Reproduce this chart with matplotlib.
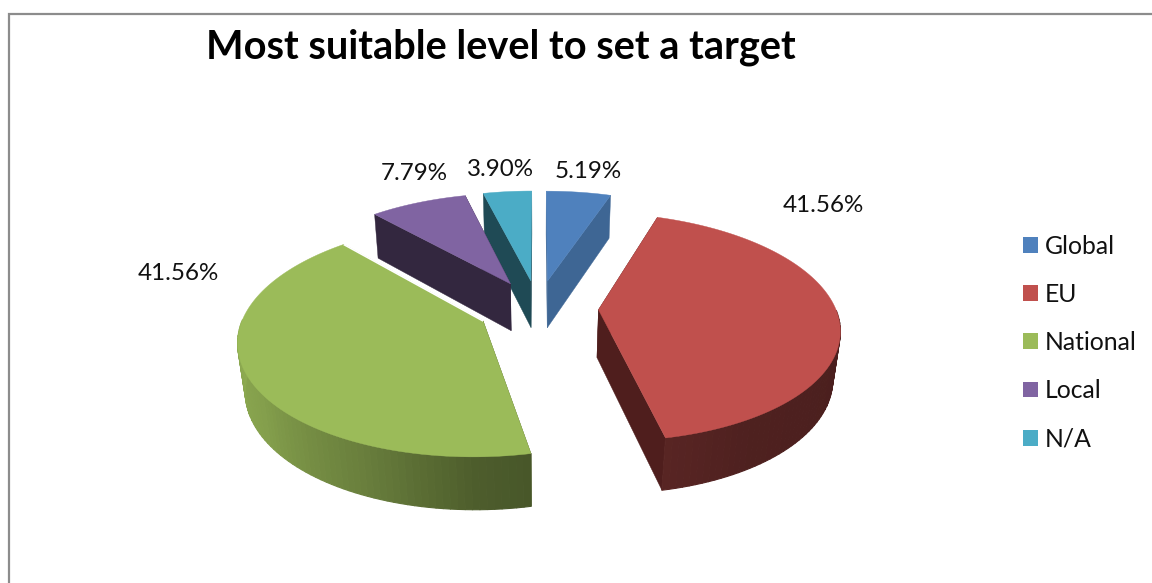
import numpy as np
import matplotlib
matplotlib.use("Agg")
import matplotlib.pyplot as plt
from matplotlib.patches import Patch, Polygon
from matplotlib.collections import PolyCollection

plt.rcParams["font.family"] = ["Lato", "DejaVu Sans"]

# Survey shares, in percent
categories = ["Global", "EU", "National", "Local", "N/A"]
shares = [5.19, 41.56, 41.56, 7.79, 3.90]

# Slice styling
top_colors = ["#4f81bd", "#c0504d", "#9bbb59", "#8064a2", "#4bacc6"]
cut_colors = ["#3e6694", "#4f1e1d", "#4a5a28", "#33273f", "#1f4a55"]
label_xy = [(588, 172), (823, 206), (178, 273), (414, 174), (500, 170)]

# Rim brightness as a function of clockwise angle from twelve o'clock
shade_angles = [90, 150, 168, 180, 204, 235, 270]
shade_levels = [0.38, 0.41, 0.46, 0.50, 0.68, 0.85, 0.92]

# Projection of the tilted, extruded pie onto the canvas (pixel units)
CX, CY = 538, 308
RX, RY = 237, 111
DEPTH = 49
PERSP_V = 0.151
PERSP_H = 0.025
EXPLODE = 0.255


def project(u, v, h):
    w = 1 + PERSP_V * v + PERSP_H * h
    return np.column_stack((CX + RX * u / w, CY + (-RY * v + DEPTH * h) / w))


def scale_rgb(color, factor):
    r, g, b = matplotlib.colors.to_rgb(color)
    return (r * factor, g * factor, b * factor)


fig = plt.figure(figsize=(11.52, 5.83), dpi=100)
ax = fig.add_axes([0, 0, 1, 1])
ax.set_xlim(0, 1152)
ax.set_ylim(583, 0)
ax.axis("off")

# Chart frame: open at the right and bottom edges of the canvas
ax.plot([8.5, 8.5, 1152], [583, 13.5, 13.5], color="#8c8c8c", lw=1.6,
        solid_joinstyle="miter", zorder=1)

edges = np.concatenate(([0], np.cumsum(shares))) * 3.6
slices = []
for i in range(len(shares)):
    a0, a1 = np.radians(edges[i]), np.radians(edges[i + 1])
    mid = (a0 + a1) / 2
    slices.append((i, a0, a1, EXPLODE * np.sin(mid), EXPLODE * np.cos(mid)))

# Paint the rearmost slices first so nearer ones overlap them
slices.sort(key=lambda s: -s[4])
for order, (i, a0, a1, ou, ov) in enumerate(slices):
    z = 2 + order * 3

    # Flat faces revealed where the slice was pulled out of the pie
    for ang in (a0, a1):
        eu = ou + np.array([0, np.sin(ang)])
        ev = ov + np.array([0, np.cos(ang)])
        quad = np.vstack((project(eu, ev, 0), project(eu, ev, 1)[::-1]))
        ax.add_patch(Polygon(quad, closed=True, fc=cut_colors[i],
                             ec=cut_colors[i], lw=0.3, zorder=z))

    # Curved rim as shaded strips, only along the front of the pie
    theta = np.linspace(a0, a1, max(12, int(np.degrees(a1 - a0) / 1.5)))
    top = project(ou + np.sin(theta), ov + np.cos(theta), 0)
    bottom = project(ou + np.sin(theta), ov + np.cos(theta), 1)
    strips, strip_colors = [], []
    for k in range(len(theta) - 1):
        centre = (theta[k] + theta[k + 1]) / 2
        if np.cos(centre) > 0:
            continue
        strips.append([top[k], top[k + 1], bottom[k + 1], bottom[k]])
        level = np.interp(np.degrees(centre), shade_angles, shade_levels)
        strip_colors.append(scale_rgb(top_colors[i], level))
    if strips:
        ax.add_collection(PolyCollection(strips, facecolors=strip_colors,
                                         edgecolors=strip_colors,
                                         linewidths=0.8, zorder=z + 1))

    # Top surface
    outline = np.vstack((project(np.array([ou]), np.array([ov]), 0), top))
    ax.add_patch(Polygon(outline, closed=True, fc=top_colors[i],
                         ec=top_colors[i], lw=0.3, zorder=z + 2))

    # A pale seam keeps the National slice apart from the Local slice behind it
    if categories[i] == "National":
        seam = project(ou + np.array([0, np.sin(a1)]),
                       ov + np.array([0, np.cos(a1)]), 0)
        ax.plot(seam[:, 0], seam[:, 1], color="white", lw=1.2,
                solid_capstyle="butt", zorder=z + 2)

for value, (x, y) in zip(shares, label_xy):
    ax.text(x, y, f"{value:.2f}%", ha="center", va="center",
            fontsize=17.4, color="#111111", zorder=40)

ax.text(501, 47, "Most suitable level to set a target", ha="center",
        va="center", fontsize=28.6, fontweight="bold", color="black", zorder=40)

handles = [Patch(fc=c, ec="none") for c in top_colors]
ax.legend(handles, categories, loc="upper left",
          bbox_to_anchor=(1023 / 1152, 1 - 234.5 / 583), frameon=False,
          fontsize=17.8, handlelength=0.61, handleheight=0.61, handletextpad=0.28,
          labelspacing=1.02, borderpad=0, borderaxespad=0, labelcolor="#111111")

fig.savefig("out.png", dpi=100)
